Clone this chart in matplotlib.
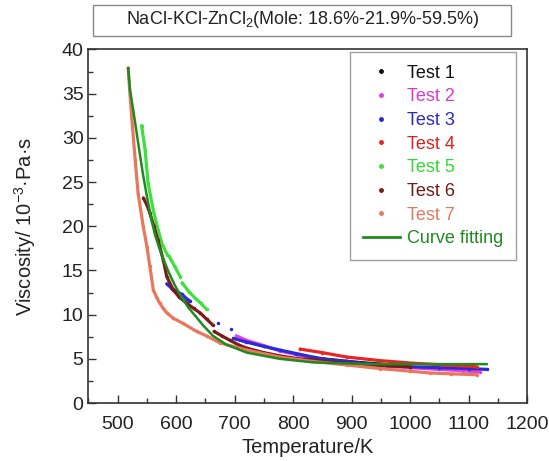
import numpy as np
import matplotlib
matplotlib.use("Agg")
import matplotlib.pyplot as plt
from matplotlib.lines import Line2D
from matplotlib.patches import Rectangle

plt.rcParams['font.family'] = ['Liberation Sans', 'DejaVu Sans']
plt.rcParams['mathtext.default'] = 'regular'

nan = np.nan

# Test series (T in K, viscosity in 1e-3 Pa s)
t1_T = [850, 880, 910, 940, 970]
t1_V = [5.0, 4.8, 4.6, 4.45, 4.3]

t2_T = [703, 720, 750, 777, 810, 850, 900, 950, 1000, 1050, 1090, 1119]
t2_V = [7.6, 7.1, 6.5, 5.9, 5.4, 4.9, 4.5, 4.2, 4.0, 3.8, 3.65, 3.5]

t3_T = [584, 592, 601, 610, 618, 624, nan, 672, nan, 693, nan, 698, 720, 750,
        777, 805, 834, 860, 892, 920, 948, 1000, 1050, 1100, 1132]
t3_V = [13.5, 13.0, 12.6, 12.3, 11.8, 11.5, nan, 9.0, nan, 8.4, nan, 7.3, 6.9, 6.4,
        6.0, 5.6, 5.2, 4.9, 4.7, 4.5, 4.3, 4.1, 4.0, 3.9, 3.8]

t4_T = [812, 850, 892, 948, 1005, 1060, 1114]
t4_V = [6.1, 5.7, 5.2, 4.8, 4.5, 4.3, 4.1]

t5_T = [541, 547, 552, 561, 569, 577, 585, nan, 588, 598, 607, nan, 610, 622, 632, 642, 652]
t5_V = [31.4, 28.6, 24.9, 21.8, 19.6, 17.8, 16.8, nan, 16.6, 15.4, 14.3, nan, 13.6, 12.6, 11.9, 11.3, 10.6]

t6_T = [544, 550, 555, 562, 569, 578, 584, 595, 605, 618, 630, 641, 652, 663, nan,
        665, 678, 692, 706, 721, 750, 780, 810, 834, 870, 910, 960, 1000]
t6_V = [23.2, 22.4, 21.5, 20.0, 18.4, 16.2, 14.3, 12.8, 12.0, 11.3, 10.7, 10.2, 9.5, 8.8, nan,
        8.1, 7.6, 7.1, 6.6, 6.2, 5.7, 5.3, 5.0, 4.9, 4.6, 4.4, 4.2, 4.1]

t7_T = [518, 521, 524, 530, 535, 544, 550, 555, 561, 567, 572, 578, 584, 595, 612, 635,
        652, 675, 721, 777, 834, 892, 948, 1000, 1034, 1070, 1114]
t7_V = [37.9, 35.0, 32.4, 27.5, 23.7, 19.9, 17.7, 15.5, 12.8, 11.9, 11.3, 10.7, 10.2, 9.6, 9.0, 8.1,
        7.6, 6.8, 6.0, 5.2, 4.7, 4.3, 3.9, 3.6, 3.4, 3.3, 3.2]

fit_T = [518, 521, 527, 532, 537, 543, 550, 557, 564, 571, 578, 588, 598, 609, 621,
         646, 663, 686, 721, 777, 834, 900, 948, 1000, 1060, 1131]
fit_V = [37.9, 35.5, 33.0, 30.8, 28.6, 26.0, 23.4, 21.0, 19.0, 17.6, 16.3, 14.7, 13.3, 12.0, 10.8,
         8.8, 7.6, 6.6, 5.7, 5.0, 4.6, 4.45, 4.4, 4.4, 4.4, 4.4]

labels = ["Test 1", "Test 2", "Test 3", "Test 4", "Test 5", "Test 6", "Test 7"]
colors = ["#111111", "#e040e0", "#2a2ad8", "#e82424", "#3ee03e", "#7a1c1c", "#e8785c"]
text_colors = ["#111111", "#d43ad4", "#2a2ac8", "#e02020", "#35d635", "#6e1a1a", "#e07a5f"]
fit_color = "#1f8a1f"

series = [(t1_T, t1_V), (t2_T, t2_V), (t3_T, t3_V), (t4_T, t4_V),
          (t5_T, t5_V), (t6_T, t6_V), (t7_T, t7_V)]

fig = plt.figure(figsize=(5.49, 4.61), dpi=100)
ax = fig.add_axes([88.4/549, 1-403/461, (527-88.4)/549, (403-49.5)/461])

# test 1 sits underneath the rest, so draw it first
for (T, V), c in zip(series, colors):
    ax.plot(T, V, '-', color=c, lw=2.3, marker='.', ms=3, solid_capstyle='round')
ax.plot(fit_T, fit_V, '-', color=fit_color, lw=1.8)

ax.set_xlim(450, 1200)
ax.set_ylim(0, 40)
ax.set_xticks(np.arange(500, 1201, 100))
ax.set_xticks(np.arange(450, 1201, 50), minor=True)
ax.set_yticks(np.arange(0, 41, 5))
ax.set_yticks(np.arange(0, 40.1, 2.5), minor=True)
ax.tick_params(which='both', direction='in', top=False, right=False,
               colors='#333333', labelcolor='#222222', labelsize=14)
ax.tick_params(which='major', length=6, width=1)
ax.tick_params(which='minor', length=3.5, width=1)
ax.tick_params(axis='x', pad=9)
for sp in ax.spines.values():
    sp.set_color('#333333')
    sp.set_linewidth(1.2)

ax.set_xlabel("Temperature/K", fontsize=14.5, color='#222222', labelpad=4)
ax.set_ylabel(r"Viscosity/ 10$^{-3}$·Pa·s", fontsize=14.5, color='#222222', labelpad=17)

handles = [Line2D([], [], ls='none', marker='.', ms=5, color=c) for c in colors]
handles.append(Line2D([], [], color=fit_color, lw=2))
leg = fig.legend(handles, labels + ["Curve fitting"], loc='upper left',
                 bbox_to_anchor=(350/549, 1-52/461), fontsize=13,
                 frameon=True, fancybox=False, edgecolor='#888888',
                 handlelength=2.05, handletextpad=0.4, labelspacing=0.37,
                 borderpad=0.7, borderaxespad=0)
leg.get_frame().set_linewidth(1.0)
for txt, c in zip(leg.get_texts(), text_colors + [fit_color]):
    txt.set_color(c)

# title box above the plot
fig.patches.append(Rectangle((93/549, 1-36/461), (511-93)/549, 31/461,
                             transform=fig.transFigure, fill=False,
                             edgecolor='#888888', lw=1.0))
fig.text(303/549, 1-20/461, r"NaCl-KCl-ZnCl$_2$(Mole: 18.6%-21.9%-59.5%)",
         ha='center', va='center', fontsize=13, color='#222222')

fig.savefig("out.png", dpi=100)
